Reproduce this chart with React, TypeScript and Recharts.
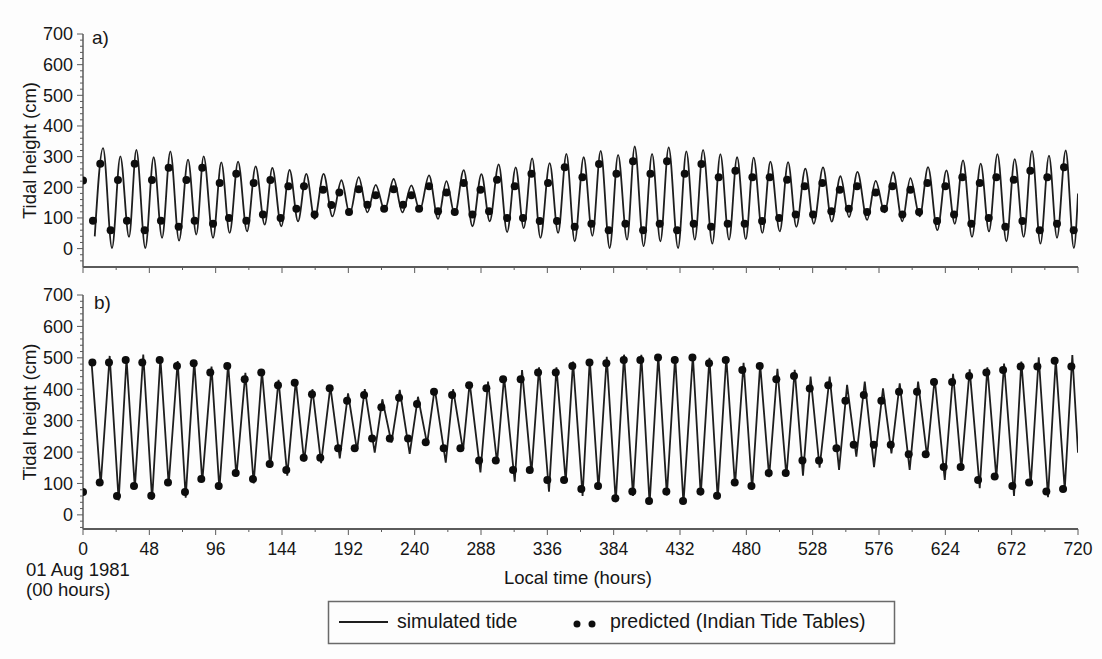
import React from "react";
import {
  ComposedChart,
  Line,
  Scatter,
  XAxis,
  YAxis,
} from "recharts";

// [hour, height in cm]
// panel a) simulated tide, turning points
const simA: [number, number][] = [
  [8.5, 40], [14.5, 328], [21, 2], [27, 301], [33.3, 38], [38.6, 322], [45.1, 2],
  [51.1, 298], [57.2, 35], [63.2, 317], [69.5, 26], [76, 290], [82, 46], [87.3, 301],
  [94.1, 35], [100.1, 281], [106.1, 51], [112.2, 284], [118.7, 56], [124.9, 268],
  [131.5, 78], [137, 263], [143.5, 73], [149.5, 257], [155.6, 89], [161.6, 244],
  [167.6, 97], [174.1, 244], [180.5, 105], [187, 223], [193, 113], [199.5, 233],
  [205.8, 118], [211.8, 208], [218.3, 125], [224.8, 227], [231.1, 118], [237.6, 206],
  [243.7, 125], [250.4, 239], [256.9, 97], [263, 220], [269, 111], [275.5, 256],
  [281.8, 73], [288.3, 243], [294.3, 89], [300.8, 275], [306.9, 54], [313.1, 265],
  [318.9, 67], [325, 294], [331, 35], [337.7, 279], [343.8, 51], [349.8, 309],
  [355.8, 24], [362.3, 298], [368.6, 42], [374.6, 319], [381.1, 2], [387.2, 306],
  [393.7, 29], [399.2, 333], [405.7, 8], [411.8, 309], [417.8, 24], [423.8, 330],
  [430.6, 2], [436.6, 317], [442.7, 29], [448.7, 322], [455.4, 16], [461.2, 308],
  [467.5, 29], [473.3, 298], [479.6, 31], [485.3, 297], [491.6, 51], [497.4, 284],
  [504.2, 56], [510.2, 282], [516.2, 71], [522.7, 261], [528.8, 81], [535.5, 265],
  [541.8, 88], [548.1, 236], [554.3, 103], [560.4, 250], [567.4, 94], [573.6, 221],
  [580.1, 118], [586.2, 249], [592.9, 89], [598.7, 230], [605.5, 105], [611.5, 266],
  [618.2, 60], [624.8, 255], [630.8, 81], [636.8, 288], [643.3, 38], [649.6, 277],
  [655.6, 56], [661.7, 308], [668.2, 24], [674.2, 292], [680.7, 38], [686.7, 319],
  [692.8, 16], [699, 303], [704.8, 35], [711.1, 320], [717, 2], [720, 180],
];

// panel a) predicted highs and lows (Indian Tide Tables)
const predA: [number, number][] = [
  [0, 222], [7.2, 91], [12.5, 277], [20, 60], [25.3, 224], [31.8, 91], [37.4, 277],
  [44.6, 60], [49.9, 224], [56.4, 91], [62, 264], [69.2, 71], [74.8, 224], [80.8, 91],
  [86.3, 264], [94.1, 81], [98.9, 214], [105.6, 100], [110.9, 244], [118.2, 91],
  [123.5, 214], [130.2, 111], [135.6, 224], [143, 100], [148.6, 203], [154.4, 130],
  [159.9, 203], [167.6, 111], [173.7, 192], [179.7, 142], [185.5, 183], [192.5, 119],
  [199.5, 194], [205.8, 143], [211.8, 174], [217.9, 130], [224.8, 194], [231.6, 143],
  [237.6, 174], [243.2, 130], [250.4, 203], [256.9, 122], [263, 183], [269, 119],
  [275.5, 214], [281.8, 111], [287.6, 192], [293.8, 122], [299.6, 225], [306.9, 100],
  [312.4, 203], [318.4, 100], [324.5, 244], [330.5, 90], [336.5, 214], [343, 90],
  [348.6, 265], [355.8, 71], [361.4, 233], [367.9, 81], [373.4, 276], [380.4, 60],
  [386, 244], [392.5, 81], [398, 285], [405.3, 60], [410.6, 244], [417.3, 81],
  [422.6, 285], [429.9, 60], [435.4, 244], [441.9, 81], [447.5, 276], [454.5, 71],
  [460, 233], [466.5, 81], [472.1, 254], [478.8, 81], [484.4, 233], [491.4, 90],
  [496.9, 233], [503.7, 100], [509.5, 225], [515.7, 111], [522.2, 203], [528.3, 111],
  [535, 214], [541.5, 122], [547.6, 192], [554.1, 130], [560.1, 203], [567.4, 119],
  [573.6, 183], [579.7, 130], [585.7, 203], [592.9, 111], [598.7, 192], [605, 119],
  [611, 214], [618, 90], [624, 203], [630.3, 111], [636.3, 233], [642.8, 81],
  [648.9, 214], [655.4, 100], [660.9, 233], [667.4, 71], [673.5, 225], [679.8, 90],
  [685.5, 254], [692.3, 60], [697.8, 233], [704.8, 81], [709.9, 265], [716.9, 60],
];

// panel b) simulated tide, turning points
const simB: [number, number][] = [
  [6.3, 480], [12.8, 95], [19.3, 506], [25.8, 46], [31.5, 498], [37.5, 85], [43.6, 510],
  [50, 48], [56, 500], [62, 95], [68.5, 490], [74.3, 55], [80.5, 492], [86.3, 105],
  [93, 472], [98.7, 80], [105, 482], [111, 122], [117.5, 452], [123.5, 100],
  [129.5, 458], [135.5, 150], [141.5, 430], [147.8, 125], [154, 428], [160, 170],
  [166, 400], [172.3, 165], [179, 408], [185.8, 180], [191.8, 387], [198.3, 205],
  [203.9, 400], [211.1, 198], [216.6, 368], [223.2, 230], [229.2, 398], [236.4, 194],
  [242.4, 376], [249, 226], [254.5, 403], [262.5, 166], [267.8, 400], [275, 205],
  [279.8, 421], [287.6, 135], [293.1, 424], [299.6, 166], [304.7, 440], [312.4, 106],
  [317.7, 461], [324.5, 133], [330, 470], [337.2, 74], [342.6, 470], [349.3, 106],
  [354.6, 488], [361.5, 60], [366.7, 495], [373, 80], [379, 503], [385.5, 40],
  [391.5, 510], [398, 60], [404, 510], [410, 35], [416.3, 508], [422.5, 62],
  [428.5, 505], [434.5, 35], [441.3, 508], [447, 62], [453.3, 500], [459.3, 50],
  [465.5, 502], [471.8, 92], [478, 484], [484.2, 80], [490, 480], [496.5, 120],
  [502.5, 465], [509, 122], [515, 462], [521, 125], [526.5, 440], [533, 150],
  [540.3, 440], [547.1, 143], [552.9, 414], [559.6, 185], [565.7, 424], [572.4, 152],
  [578.9, 403], [585, 196], [591, 419], [598.2, 143], [604.3, 424], [610.8, 185],
  [616.3, 435], [623.6, 111], [629.6, 449], [635.6, 145], [641.6, 463], [648.9, 85],
  [654.4, 470], [660.9, 117], [666.5, 482], [673.7, 60], [679, 488], [685.8, 95],
  [691.6, 502], [698.3, 56], [703.9, 495], [710.4, 80], [715.9, 509], [720, 198],
];

// panel b) predicted highs and lows
const predB: [number, number][] = [
  [0, 73], [6.8, 485], [12.1, 103], [18.8, 485], [24.6, 60], [30.9, 493], [36.9, 92],
  [42.9, 485], [49.4, 61], [55.5, 493], [61.5, 103], [68, 474], [73.8, 73], [80.1, 483],
  [85.6, 114], [92.1, 453], [98.2, 92], [104.4, 474], [110.5, 133], [117, 432],
  [123, 114], [129, 453], [135.1, 162], [141.1, 413], [147.1, 143], [153.2, 421],
  [159.7, 182], [165.7, 384], [171.7, 182], [178.5, 403], [184.6, 212], [191.1, 363],
  [196.6, 212], [203.4, 382], [209.2, 243], [215.9, 343], [222, 243], [228.7, 373],
  [235.2, 243], [241.7, 353], [248, 231], [254, 392], [261, 212], [267.1, 382],
  [273.1, 212], [279.4, 413], [286.6, 173], [291.9, 403], [298.7, 173], [304, 432],
  [311.2, 143], [316.7, 432], [323.3, 143], [329.3, 453], [336, 111], [342.1, 453],
  [348.1, 111], [354.1, 474], [360.6, 82], [366.5, 485], [372.7, 92], [378.7, 483],
  [385.2, 53], [391.3, 493], [397.5, 74], [403.3, 493], [409.6, 44], [416.1, 501],
  [422.1, 74], [428.2, 493], [434.2, 44], [441, 501], [446.8, 74], [453, 483],
  [458.8, 61], [465.1, 493], [471.6, 103], [477.1, 461], [483.7, 92], [489.7, 474],
  [496.2, 133], [501.7, 432], [508.5, 133], [514.5, 442], [520.6, 173], [525.9, 402],
  [532.6, 173], [539.3, 413], [545.2, 212], [551.7, 363], [557.7, 223], [565, 382],
  [572.2, 223], [577.7, 363], [584.5, 223], [590.5, 392], [597.5, 193], [603.5, 392],
  [609.8, 193], [615.8, 423], [622.8, 152], [628.9, 423], [635.1, 152], [641.2, 442],
  [647.7, 111], [653.7, 453], [659.7, 122], [665.8, 461], [672.5, 92], [678.5, 472],
  [684.6, 103], [690.6, 472], [697.1, 74], [703.1, 491], [709.2, 82], [715.2, 472],
];

const hourTicks = [
  0, 24, 48, 72, 96, 120, 144, 168, 192, 216, 240, 264, 288, 312, 336, 360,
  384, 408, 432, 456, 480, 504, 528, 552, 576, 600, 624, 648, 672, 696, 720,
];
const heightTicks = [
  -40, -20, 0, 20, 40, 60, 80, 100, 120, 140, 160, 180, 200, 220, 240, 260, 280,
  300, 320, 340, 360, 380, 400, 420, 440, 460, 480, 500, 520, 540, 560, 580, 600,
  620, 640, 660, 680, 700,
];

const toRows = (pts: [number, number][]) => pts.map(([t, v]) => ({ t, v }));

const FONT = "'Liberation Sans', Arial, Helvetica, sans-serif";
const INK = "#161616";
const AXIS = "#5a5a5a";

function YTick(props: any) {
  const { x, y, payload } = props;
  const major = payload.value % 100 === 0;
  return (
    <g>
      <line x1={x - (major ? 6 : 3)} x2={x} y1={y} y2={y} stroke={AXIS} strokeWidth={1} />
      {major && (
        <text x={x - 10} y={y} dy="0.36em" textAnchor="end" fontSize={18} fill={INK} fontFamily={FONT}>
          {payload.value}
        </text>
      )}
    </g>
  );
}

function XTick(props: any) {
  const { x, y, payload, showLabels } = props;
  const major = payload.value % 48 === 0;
  return (
    <g>
      <line x1={x} x2={x} y1={y} y2={y + (major ? 6 : 3)} stroke={AXIS} strokeWidth={1} />
      {major && showLabels && (
        <text x={x} y={y + 26} textAnchor="middle" fontSize={17.5} fill={INK} fontFamily={FONT}>
          {payload.value}
        </text>
      )}
    </g>
  );
}

function YLabel(props: any) {
  const vb = props.viewBox || { y: 0, height: 0 };
  const cx = 29;
  const cy = vb.y + vb.height / 2;
  return (
    <text
      x={cx}
      y={cy}
      transform={`rotate(-90 ${cx} ${cy})`}
      textAnchor="middle"
      dominantBaseline="central"
      fontSize={18.5}
      fill={INK}
      fontFamily={FONT}
    >
      Tidal height (cm)
    </text>
  );
}

const dot = (p: any) => <circle cx={p.cx} cy={p.cy} r={4} fill="#0d0d0d" />;

function Panel({
  sim,
  pred,
  height,
  top,
  yMin,
  xAxisHeight,
  showLabels,
  curve,
}: {
  sim: [number, number][];
  pred: [number, number][];
  height: number;
  top: number;
  yMin: number;
  xAxisHeight: number;
  showLabels: boolean;
  curve: "monotone" | "linear";
}) {
  return (
    <ComposedChart width={1102} height={height} margin={{ top, right: 24, left: 0, bottom: 0 }}>
      <XAxis
        type="number"
        dataKey="t"
        domain={[0, 720]}
        ticks={hourTicks}
        interval={0}
        height={xAxisHeight}
        tickSize={0}
        tickMargin={0}
        tick={<XTick showLabels={showLabels} />}
        axisLine={{ stroke: AXIS, strokeWidth: 2 }}
        allowDataOverflow
      />
      <YAxis
        type="number"
        dataKey="v"
        domain={[yMin, 700]}
        ticks={heightTicks}
        interval={0}
        width={83}
        tickSize={0}
        tickMargin={0}
        tick={<YTick />}
        axisLine={{ stroke: AXIS, strokeWidth: 1.5 }}
        label={<YLabel />}
        allowDataOverflow
      />
      <Line
        data={toRows(sim)}
        dataKey="v"
        type={curve}
        stroke="#1e1e1e"
        strokeWidth={1.8}
        dot={false}
        activeDot={false}
        isAnimationActive={false}
      />
      <Scatter data={toRows(pred)} dataKey="v" shape={dot} isAnimationActive={false} />
    </ComposedChart>
  );
}

export default function App() {
  const txt = { fontFamily: FONT, fill: INK } as const;
  return (
    <div style={{ position: "absolute", left: 0, top: 0, width: 1102, height: 659, background: "#fdfdfd" }}>
      <div style={{ position: "absolute", left: 0, top: 0 }}>
        <Panel sim={simA} pred={predA} height={280} top={34} yMin={-60} xAxisHeight={13} showLabels={false} curve="monotone" />
      </div>
      <div style={{ position: "absolute", left: 0, top: 280 }}>
        <Panel sim={simB} pred={predB} height={290} top={15} yMin={-45} xAxisHeight={41} showLabels curve="linear" />
      </div>
      <svg width={1102} height={659} style={{ position: "absolute", left: 0, top: 0, pointerEvents: "none" }}>
        <text x={92} y={44} fontSize={19} {...txt}>a)</text>
        <text x={94} y={309} fontSize={19} {...txt}>b)</text>
        <text x={26} y={576} fontSize={18.5} {...txt}>01 Aug 1981</text>
        <text x={26} y={596} fontSize={18.5} {...txt}>(00 hours)</text>
        <text x={578} y={584} fontSize={18.5} textAnchor="middle" {...txt}>Local time (hours)</text>
        <rect x={328.5} y={601.5} width={566} height={42} fill="none" stroke="#6a6a6a" strokeWidth={1.5} />
        <line x1={339} x2={388} y1={622} y2={622} stroke="#1e1e1e" strokeWidth={2} />
        <text x={397} y={628} fontSize={19.5} {...txt}>simulated tide</text>
        <circle cx={577} cy={624} r={3.5} fill="#0d0d0d" />
        <circle cx={592} cy={624} r={3.5} fill="#0d0d0d" />
        <text x={610} y={628} fontSize={19.5} {...txt}>predicted (Indian Tide Tables)</text>
      </svg>
    </div>
  );
}
